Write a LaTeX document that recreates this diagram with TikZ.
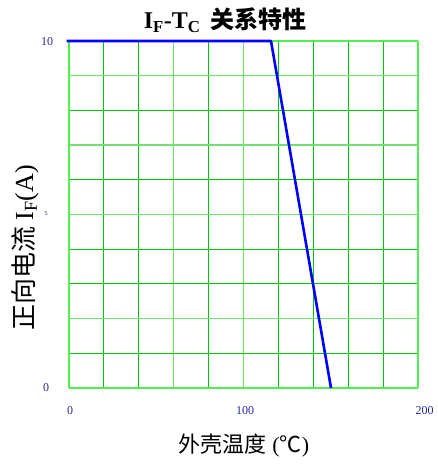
\documentclass[tikz,border=0pt]{standalone}
\usepackage{fontspec}
\setmainfont{Liberation Serif}
\newfontfamily\cjk{Noto Sans CJK SC}
\begin{document}
\begin{tikzpicture}[x=1pt,y=-1pt,
  gridA/.style={draw={rgb,255:red,0;green,200;blue,0},line width=1pt},
  gridB/.style={draw={rgb,255:red,110;green,225;blue,110},line width=1.4pt},
  tick/.style={text={rgb,255:red,40;green,40;blue,150},font=\fontsize{12}{12}\selectfont},
  curve/.style={draw={rgb,255:red,0;green,0;blue,255},line width=2.6pt}]
\useasboundingbox (0,0) rectangle (437,466);
% grid
\foreach \i in {1,2,4,6,7,8,9} {\draw[gridA] ({69+\i*34.9},41) -- ({69+\i*34.9},388);}
\foreach \i in {3,5} {\draw[gridB] ({69+\i*34.9},41) -- ({69+\i*34.9},388);}
\foreach \j in {2,4,6,7,9} {\draw[gridA] (69,{41+\j*34.7}) -- (418,{41+\j*34.7});}
\foreach \j in {1,3,5,8} {\draw[gridB] (69,{41+\j*34.7}) -- (418,{41+\j*34.7});}
\draw[gridB,draw={rgb,255:red,80;green,240;blue,80}] (69,41) -- (418,41);
\draw[gridB,draw={rgb,255:red,80;green,240;blue,80}] (69,388) -- (418,388);
\draw[gridB,draw={rgb,255:red,80;green,240;blue,80}] (69,41) -- (69,388);
\draw[gridB,draw={rgb,255:red,80;green,240;blue,80}] (418,41) -- (418,388);
% curve
\coordinate (p0) at (66.5,41);
\coordinate (p1) at (271,41);
\coordinate (p2) at (331,388);
\draw[curve,line join=round] (p0) -- (p1) -- (p2);
% tick labels
\node[tick] (y10) at (47,42) {10};
\node[tick,font=\fontsize{6}{6}\selectfont] (y5) at (46,214) {5};
\node[tick] (y0) at (46,388) {0};
\node[tick] (x0) at (70,411) {0};
\node[tick] (x100) at (245,411) {100};
\node[tick,anchor=west] (x200) at (412,411) {200};
% title
\node (title) at (225,20) {\fontsize{24}{24}\selectfont\bfseries I\textsubscript{F}-T\textsubscript{C}\hspace{0.4em}{\cjk 关系特性}};
% axis titles
\node (xl) at (244,446) {\fontsize{22}{22}\selectfont{\cjk 外壳温度} ({\cjk ℃})};
\node[rotate=90] (yl) at (25,248) {\fontsize{26}{26}\selectfont{\cjk 正向电流} I\textsubscript{F}(A)};
\end{tikzpicture}
\end{document}
